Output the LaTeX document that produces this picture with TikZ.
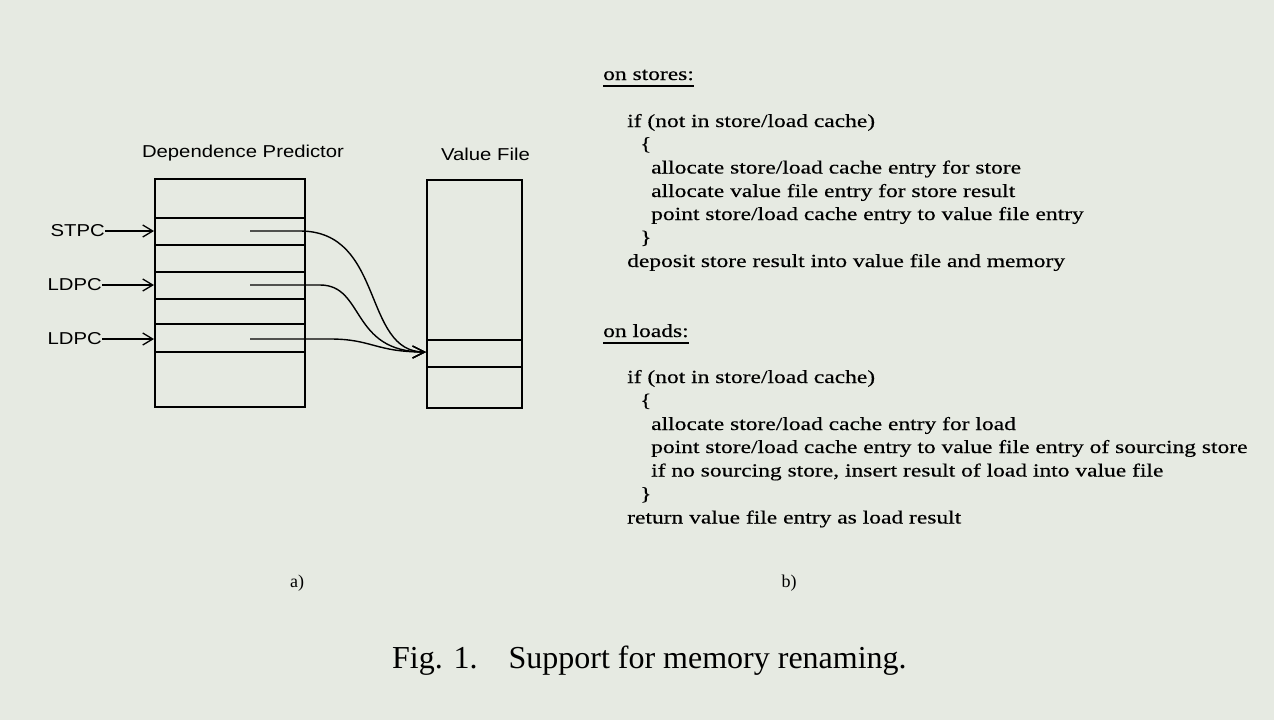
\documentclass[tikz,border=0pt]{standalone}
\usepackage{fontspec}
\setmainfont{Liberation Serif}
\newfontfamily\diagsans[FakeStretch=1.18]{Liberation Sans}
\newfontfamily\codefont[FakeStretch=1.27,FakeBold=0.4]{Liberation Serif}
\usetikzlibrary{arrows.meta}
\definecolor{bgcol}{RGB}{230,234,226}
\tikzset{
  boxline/.style={line width=1.6pt},
  sanslbl/.style={font=\diagsans\fontsize{17.2}{20}\selectfont, inner sep=0pt},
  codeline/.style={font=\codefont\fontsize{18.5}{23}\selectfont, inner sep=0pt, anchor=base west},
  inarrow/.style={line width=1.4pt, -{Straight Barb[length=10pt,width=12pt,line width=1.3pt]}},
  curvearrow/.style={line width=1.4pt, -{Straight Barb[length=12pt,width=12pt,line width=1.3pt]}},
  uline/.style={line width=1.3pt},
}
\begin{document}
\begin{tikzpicture}[x=1pt,y=-1pt]
\fill[bgcol] (0,0) rectangle (1274,720);
\useasboundingbox (0,0) rectangle (1274,720);

% titles
\node[sanslbl] (tdp) at (243,153) {Dependence Predictor};
\node[sanslbl] (tvf) at (485.5,154) {Value File};

% boxes
\node[draw, boxline, minimum width=150pt, minimum height=228pt, inner sep=0pt, anchor=north west] (dp) at (154,178) {};
\node[draw, boxline, minimum width=95pt, minimum height=228pt, inner sep=0pt, anchor=north west] (vf) at (426,179) {};

% row lines in dependence predictor
\foreach \yy in {218,245,272,299,324,352} {
  \draw[boxline] (dp.west |- 0,\yy) -- (dp.east |- 0,\yy);
}
% row lines in value file
\foreach \yy in {340,367} {
  \draw[boxline] (vf.west |- 0,\yy) -- (vf.east |- 0,\yy);
}

% input labels
\node[sanslbl, anchor=east] (stpc) at (105,231) {STPC};
\node[sanslbl, anchor=east] (ldpa) at (102,285) {LDPC};
\node[sanslbl, anchor=east] (ldpb) at (102,339) {LDPC};
\coordinate (ina) at (dp.west |- 0,231);
\coordinate (inb) at (dp.west |- 0,285);
\coordinate (inc) at (dp.west |- 0,339);
\draw[inarrow] (stpc.east) -- (ina);
\draw[inarrow] (ldpa.east) -- (inb);
\draw[inarrow] (ldpb.east) -- (inc);

% pointers
\coordinate (pa) at (250,231);
\coordinate (pb) at (250,285);
\coordinate (pc) at (250,339);
\coordinate (tgt) at (vf.west |- 0,352);
\draw[curvearrow] (pa) -- (300,231) .. controls (385,231) and (362,352) .. (tgt);
\draw[curvearrow] (pb) -- (320,285) .. controls (365,285) and (350,352) .. (tgt);
\draw[curvearrow] (pc) -- (330,339) .. controls (372,339) and (375,352) .. (tgt);

% code b)
\node[codeline] (s0) at (603,80) {on stores:};
\draw[uline] ([yshift=-6pt]s0.base west) -- ([yshift=-6pt]s0.base east);
\node[codeline] (s1) at (627,127) {if (not in store/load cache)};
\node[codeline] (s2) at (640,150) {\{};
\node[codeline] (s3) at (651,173.5) {allocate store/load cache entry for store};
\node[codeline] (s4) at (651,197) {allocate value file entry for store result};
\node[codeline] (s5) at (651,220) {point store/load cache entry to value file entry};
\node[codeline] (s6) at (640,243.5) {\}};
\node[codeline] (s7) at (627,267) {deposit store result into value file and memory};

\node[codeline] (l0) at (603,337) {on loads:};
\draw[uline] ([yshift=-6pt]l0.base west) -- ([yshift=-6pt]l0.base east);
\node[codeline] (l1) at (627,383) {if (not in store/load cache)};
\node[codeline] (l2) at (640,406.5) {\{};
\node[codeline] (l3) at (651,430) {allocate store/load cache entry for load};
\node[codeline] (l4) at (651,453) {point store/load cache entry to value file entry of sourcing store};
\node[codeline] (l5) at (651,476.5) {if no sourcing store, insert result of load into value file};
\node[codeline] (l6) at (640,500) {\}};
\node[codeline] (l7) at (627,523.5) {return value file entry as load result};

% sub labels
\node[font=\fontsize{18}{20}\selectfont, inner sep=0pt] (la) at (297,583) {a)};
\node[font=\fontsize{18}{20}\selectfont, inner sep=0pt] (lb) at (789,583) {b)};

% caption
\node[font=\fontsize{32}{36}\selectfont, inner sep=0pt, anchor=base west] (cap) at (392,668) {Fig. 1.\hspace{31pt}Support for memory renaming.};
\end{tikzpicture}
\end{document}
